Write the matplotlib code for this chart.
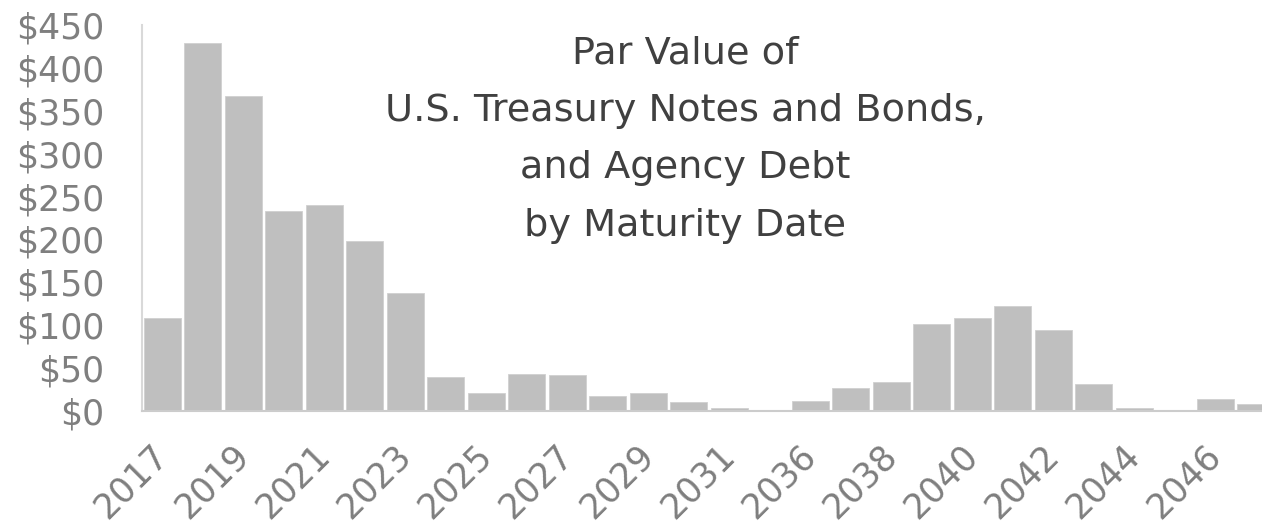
import matplotlib
matplotlib.use("Agg")
import matplotlib.pyplot as plt
import numpy as np

# maturity year buckets and par value ($ billions)
years = ['2017', '2018', '2019', '2020', '2021', '2022', '2023', '2024',
         '2025', '2026', '2027', '2028', '2029', '2030', '2031', '2032',
         '2036', '2037', '2038', '2039', '2040', '2041', '2042', '2043',
         '2044', '2045', '2046', '2047']
par_value = [108, 429, 367, 233, 240, 198, 138, 40,
             21, 43, 42, 17.5, 21, 10.5, 3.5, 1,
             12, 27, 34, 101, 108, 122, 94, 31,
             3, 1, 14.5, 8]
yticks = [0, 50, 100, 150, 200, 250, 300, 350, 400, 450]
title_lines = ['Par Value of', 'U.S. Treasury Notes and Bonds,',
               'and Agency Debt', 'by Maturity Date']

plt.rcParams['font.family'] = ['DejaVu Sans']

fig = plt.figure(figsize=(12.62, 5.29), dpi=100)
# axes run a bit past the right edge so the last bar is cut like the original
ax = fig.add_axes([142 / 1262, 118 / 529, 1134 / 1262, 386 / 529])

x = np.arange(len(years))
ax.bar(x, par_value, width=0.91, color='#bfbfbf', edgecolor='#d0d0d0', linewidth=0.6)

ax.set_xlim(-0.5, len(years) - 0.5)
ax.set_ylim(0, 450)
ax.set_yticks(yticks)
ax.set_yticklabels(['$' + str(v) for v in yticks])
ax.set_xticks(x[::2])
ax.set_xticklabels(years[::2], rotation=45, ha='right', va='center',
                   rotation_mode='anchor')

ax.tick_params(axis='y', length=0, pad=27, labelsize=25, labelcolor='#7f7f7f')
ax.tick_params(axis='x', length=0, pad=28, labelsize=25, labelcolor='#7f7f7f')

for s in ['top', 'right']:
    ax.spines[s].set_visible(False)
ax.spines['left'].set_color('#d9d9d9')
ax.spines['left'].set_linewidth(1.5)
ax.spines['bottom'].set_color('#cccccc')
ax.spines['bottom'].set_linewidth(1.5)

fig.text(685 / 1262, 1 - 35 / 529, '\n'.join(title_lines), ha='center', va='top',
         fontsize=27.5, color='#404040', linespacing=1.77)

fig.savefig('out.png', dpi=100)
